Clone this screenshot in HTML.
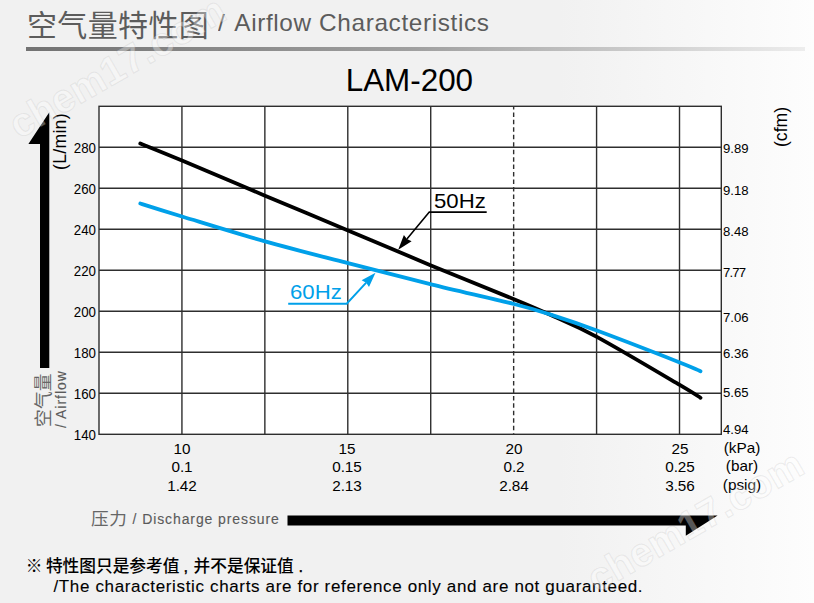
<!DOCTYPE html>
<html lang="zh-CN">
<head>
<meta charset="utf-8">
<title>LAM-200 Airflow Characteristics</title>
<style>
html,body{margin:0;padding:0}
body{width:814px;height:603px;position:relative;overflow:hidden;background:linear-gradient(90deg,#f1f1f1 0,#f1f1f1 560px,#fdfdfd 814px);font-family:"Liberation Sans",sans-serif}
svg{position:absolute;left:0;top:0;display:block}
.t{position:absolute;width:0;height:0;transform-origin:0 0}
.t>span{position:absolute;left:0;white-space:nowrap;line-height:1;display:block}
.wm{position:absolute;font-size:40px;font-weight:bold;line-height:1;white-space:nowrap;color:rgba(255,255,255,.36);-webkit-text-stroke:1.2px rgba(130,130,130,.13);transform:rotate(-30deg);transform-origin:0 0}
</style>
</head>
<body>
<svg width="814" height="603" viewBox="0 0 814 603">
<defs>
<linearGradient id="rg" x1="0" y1="0" x2="1" y2="0"><stop offset="0" stop-color="#727272"/><stop offset="0.5" stop-color="#a0a0a0"/><stop offset="1" stop-color="#ededed"/></linearGradient>
</defs>
<rect x="99.0" y="106.3" width="622.30" height="328.00" fill="#fff"/>
<g fill="none" stroke="#2e2e2e" stroke-width="1.4"><path d="M181.93 106.3V434.3"/><path d="M264.86 106.3V434.3"/><path d="M347.79 106.3V434.3"/><path d="M430.72 106.3V434.3"/><path d="M513.65 106.3V434.3" stroke-dasharray="4.5 2.96" stroke-dashoffset="1.36"/><path d="M596.58 106.3V434.3"/><path d="M679.51 106.3V434.3"/><path d="M99.0 147.30H721.3"/><path d="M99.0 188.30H721.3"/><path d="M99.0 229.30H721.3"/><path d="M99.0 270.30H721.3"/><path d="M99.0 311.30H721.3"/><path d="M99.0 352.30H721.3"/><path d="M99.0 393.30H721.3"/><rect x="99.0" y="106.3" width="622.30" height="328.00"/></g>
<path d="M140.3 143.5C147.2 146.3 161.2 151.8 182.0 160.5C202.8 169.2 237.3 184.0 265.0 195.7C292.7 207.3 320.3 218.8 348.0 230.4C375.7 242.0 403.3 253.9 431.0 265.4C458.7 276.9 493.9 290.9 514.0 299.2C534.1 307.5 537.6 309.0 551.4 315.3C565.2 321.6 575.4 325.2 596.8 336.8C618.2 348.4 662.4 374.7 679.7 384.9C697.0 395.1 697.0 395.6 700.5 397.8" fill="none" stroke="#000" stroke-width="3.8" stroke-linecap="round"/>
<path d="M140.3 203.5C147.2 205.7 161.2 210.2 182.0 216.5C202.8 222.8 237.3 233.6 265.0 241.4C292.7 249.2 320.3 256.1 348.0 263.2C375.7 270.3 403.3 277.5 431.0 284.3C458.7 291.1 493.9 298.9 514.0 304.0C534.1 309.1 537.6 310.5 551.4 314.9C565.2 319.3 575.4 322.6 596.8 330.5C618.2 338.4 662.4 355.6 679.7 362.4C697.0 369.2 697.0 369.7 700.5 371.2" fill="none" stroke="#00a0e9" stroke-width="3.8" stroke-linecap="round"/>
<path d="M486.7 212.1H429.3L406.9 239.1" fill="none" stroke="#000" stroke-width="1.6"/><path d="M398.2 249.7L403.9 235.0L406.9 239.1L411.6 241.3Z" fill="#000"/>
<path d="M288.2 303.7H346.7L366.2 282.7" fill="none" stroke="#00a0e9" stroke-width="1.9"/><path d="M375.5 272.7L369.0 287.1L366.2 282.7L361.6 280.3Z" fill="#00a0e9"/>
<path d="M40 368V144H28.4L49.3 112.3V368Z" fill="#000"/>
<path d="M287.5 515.5H717.6L685.8 535.8V525.6H287.5Z" fill="#000"/>
<rect x="26" y="47" width="779" height="4" fill="url(#rg)"/>
<text x="27" y="35.6" font-size="30" fill="#5c5c5c" letter-spacing="0.35" font-family="'Liberation Sans','Noto Sans CJK SC',sans-serif">空气量特性图</text>
<text transform="translate(49.6 426.9) rotate(-90)" font-size="17.8" fill="#666" letter-spacing="0.1" font-family="'Liberation Sans','Noto Sans CJK SC',sans-serif">空气量</text>
<text x="91" y="525" font-size="17.6" fill="#666" letter-spacing="0.6" font-family="'Liberation Sans','Noto Sans CJK SC',sans-serif">压力</text>
<text x="25.8" y="572.4" font-size="16.7" fill="#000" font-weight="500" font-family="'Liberation Sans','Noto Sans CJK SC',sans-serif">※</text>
<text x="45.9" y="572.4" font-size="16.7" fill="#000" font-weight="500" font-family="'Liberation Sans','Noto Sans CJK SC',sans-serif">特性图只是参考值</text>
<text x="193.6" y="572.4" font-size="16.7" fill="#000" font-weight="500" font-family="'Liberation Sans','Noto Sans CJK SC',sans-serif">并不是保证值</text>
</svg>
<div class="t" style="left:217.6px;top:31.9px;"><span style="top:-19.64px;transform:translateX(0) scaleX(1.05);transform-origin:0 0;font-size:23.2px;color:#5c5c5c;letter-spacing:0.6px;">/<span style="margin-right:1.4px"> </span>Airflow Characteristics</span></div>
<div class="t" style="left:409.4px;top:91.4px;"><span style="top:-26.58px;transform:translateX(-50%);transform-origin:50% 0;font-size:31.4px;color:#000;">LAM-200</span></div>
<div class="t" style="left:96.2px;top:153.20000000000002px;"><span style="top:-11.85px;transform:translateX(-100%) scaleX(0.95);transform-origin:100% 0;font-size:14px;color:#000;">280</span></div>
<div class="t" style="left:96.2px;top:194.20000000000002px;"><span style="top:-11.85px;transform:translateX(-100%) scaleX(0.95);transform-origin:100% 0;font-size:14px;color:#000;">260</span></div>
<div class="t" style="left:96.2px;top:235.20000000000002px;"><span style="top:-11.85px;transform:translateX(-100%) scaleX(0.95);transform-origin:100% 0;font-size:14px;color:#000;">240</span></div>
<div class="t" style="left:96.2px;top:276.2px;"><span style="top:-11.85px;transform:translateX(-100%) scaleX(0.95);transform-origin:100% 0;font-size:14px;color:#000;">220</span></div>
<div class="t" style="left:96.2px;top:317.2px;"><span style="top:-11.85px;transform:translateX(-100%) scaleX(0.95);transform-origin:100% 0;font-size:14px;color:#000;">200</span></div>
<div class="t" style="left:96.2px;top:358.2px;"><span style="top:-11.85px;transform:translateX(-100%) scaleX(0.95);transform-origin:100% 0;font-size:14px;color:#000;">180</span></div>
<div class="t" style="left:96.2px;top:399.2px;"><span style="top:-11.85px;transform:translateX(-100%) scaleX(0.95);transform-origin:100% 0;font-size:14px;color:#000;">160</span></div>
<div class="t" style="left:96.2px;top:440.2px;"><span style="top:-11.85px;transform:translateX(-100%) scaleX(0.95);transform-origin:100% 0;font-size:14px;color:#000;">140</span></div>
<div class="t" style="left:723.2px;top:153.1px;"><span style="top:-11.60px;transform:translateX(0) scaleX(0.96);transform-origin:0 0;font-size:13.7px;color:#000;">9.89</span></div>
<div class="t" style="left:723.2px;top:195.3px;"><span style="top:-11.60px;transform:translateX(0) scaleX(0.96);transform-origin:0 0;font-size:13.7px;color:#000;">9.18</span></div>
<div class="t" style="left:723.2px;top:236.1px;"><span style="top:-11.60px;transform:translateX(0) scaleX(0.96);transform-origin:0 0;font-size:13.7px;color:#000;">8.48</span></div>
<div class="t" style="left:723.2px;top:277.5px;"><span style="top:-11.60px;transform:translateX(0) scaleX(0.96);transform-origin:0 0;font-size:13.7px;color:#000;letter-spacing:-0.9px;">7.77</span></div>
<div class="t" style="left:723.2px;top:322.1px;"><span style="top:-11.60px;transform:translateX(0) scaleX(0.96);transform-origin:0 0;font-size:13.7px;color:#000;">7.06</span></div>
<div class="t" style="left:723.2px;top:359.0px;"><span style="top:-11.60px;transform:translateX(0) scaleX(0.96);transform-origin:0 0;font-size:13.7px;color:#000;">6.36</span></div>
<div class="t" style="left:723.2px;top:397.2px;"><span style="top:-11.60px;transform:translateX(0) scaleX(0.96);transform-origin:0 0;font-size:13.7px;color:#000;">5.65</span></div>
<div class="t" style="left:723.2px;top:434.5px;"><span style="top:-11.60px;transform:translateX(0) scaleX(0.96);transform-origin:0 0;font-size:13.7px;color:#000;">4.94</span></div>
<div class="t" style="left:181.5px;top:454.0px;"><span style="top:-12.44px;transform:translateX(-50%) scaleX(1.04);transform-origin:50% 0;font-size:14.7px;color:#000;">10</span></div>
<div class="t" style="left:181.5px;top:472.9px;"><span style="top:-12.44px;transform:translateX(-50%) scaleX(1.04);transform-origin:50% 0;font-size:14.7px;color:#000;">0.1</span></div>
<div class="t" style="left:181.5px;top:491.7px;"><span style="top:-12.44px;transform:translateX(-50%) scaleX(1.04);transform-origin:50% 0;font-size:14.7px;color:#000;">1.42</span></div>
<div class="t" style="left:347.4px;top:454.0px;"><span style="top:-12.44px;transform:translateX(-50%) scaleX(1.04);transform-origin:50% 0;font-size:14.7px;color:#000;">15</span></div>
<div class="t" style="left:347.4px;top:472.9px;"><span style="top:-12.44px;transform:translateX(-50%) scaleX(1.04);transform-origin:50% 0;font-size:14.7px;color:#000;">0.15</span></div>
<div class="t" style="left:347.4px;top:491.7px;"><span style="top:-12.44px;transform:translateX(-50%) scaleX(1.04);transform-origin:50% 0;font-size:14.7px;color:#000;">2.13</span></div>
<div class="t" style="left:514.0px;top:454.0px;"><span style="top:-12.44px;transform:translateX(-50%) scaleX(1.04);transform-origin:50% 0;font-size:14.7px;color:#000;">20</span></div>
<div class="t" style="left:514.0px;top:472.9px;"><span style="top:-12.44px;transform:translateX(-50%) scaleX(1.04);transform-origin:50% 0;font-size:14.7px;color:#000;">0.2</span></div>
<div class="t" style="left:514.0px;top:491.7px;"><span style="top:-12.44px;transform:translateX(-50%) scaleX(1.04);transform-origin:50% 0;font-size:14.7px;color:#000;">2.84</span></div>
<div class="t" style="left:679.8px;top:454.0px;"><span style="top:-12.44px;transform:translateX(-50%) scaleX(1.04);transform-origin:50% 0;font-size:14.7px;color:#000;">25</span></div>
<div class="t" style="left:679.8px;top:472.9px;"><span style="top:-12.44px;transform:translateX(-50%) scaleX(1.04);transform-origin:50% 0;font-size:14.7px;color:#000;">0.25</span></div>
<div class="t" style="left:679.8px;top:491.7px;"><span style="top:-12.44px;transform:translateX(-50%) scaleX(1.04);transform-origin:50% 0;font-size:14.7px;color:#000;">3.56</span></div>
<div class="t" style="left:742.4px;top:453.4px;"><span style="top:-12.36px;transform:translateX(-50%) scaleX(1.05);transform-origin:50% 0;font-size:14.6px;color:#000;">(kPa)</span></div>
<div class="t" style="left:742.4px;top:471.4px;"><span style="top:-12.36px;transform:translateX(-50%) scaleX(1.05);transform-origin:50% 0;font-size:14.6px;color:#000;">(bar)</span></div>
<div class="t" style="left:742.4px;top:490.2px;"><span style="top:-12.36px;transform:translateX(-50%) scaleX(1.05);transform-origin:50% 0;font-size:14.6px;color:#000;">(psig)</span></div>
<div class="t" style="left:434.0px;top:208.4px;"><span style="top:-16.76px;transform:translateX(0) scaleX(1.12);transform-origin:0 0;font-size:19.8px;color:#000;">50Hz</span></div>
<div class="t" style="left:289.8px;top:299.3px;"><span style="top:-16.76px;transform:translateX(0) scaleX(1.12);transform-origin:0 0;font-size:19.8px;color:#00a0e9;">60Hz</span></div>
<div class="t" style="left:67.0px;top:169.7px;transform:rotate(-90deg);"><span style="top:-14.90px;transform:translateX(0);transform-origin:0 0;font-size:17.6px;color:#000;letter-spacing:0.3px;">(L/min)</span></div>
<div class="t" style="left:787.6px;top:147.0px;transform:rotate(-90deg);"><span style="top:-14.90px;transform:translateX(0);transform-origin:0 0;font-size:17.6px;color:#000;">(cfm)</span></div>
<div class="t" style="left:66.6px;top:428.0px;transform:rotate(-90deg);"><span style="top:-11.77px;transform:translateX(0);transform-origin:0 0;font-size:13.9px;color:#5a5a5a;letter-spacing:1.02px;-webkit-text-stroke:0.1px #5a5a5a;">/ Airflow</span></div>
<div class="t" style="left:132.6px;top:523.9px;"><span style="top:-11.85px;transform:translateX(0);transform-origin:0 0;font-size:14px;color:#5a5a5a;letter-spacing:0.9px;-webkit-text-stroke:0.12px #5a5a5a;">/ Discharge pressure</span></div>
<div class="t" style="left:183.6px;top:572.4px;"><span style="top:-13.97px;transform:translateX(0);transform-origin:0 0;font-size:16.5px;color:#000;-webkit-text-stroke:0.35px #000;">,</span></div>
<div class="t" style="left:298.6px;top:572.4px;"><span style="top:-13.97px;transform:translateX(0);transform-origin:0 0;font-size:16.5px;color:#000;-webkit-text-stroke:0.35px #000;">.</span></div>
<div class="t" style="left:53.4px;top:592.3px;"><span style="top:-14.39px;transform:translateX(0);transform-origin:0 0;font-size:17px;color:#000;letter-spacing:0.65px;-webkit-text-stroke:0.1px #000;">/The characteristic charts are for reference only and are not guaranteed.</span></div>
<div class="wm" style="left:1.7px;top:110.4px">chem17.com</div>
<div class="wm" style="left:580.1px;top:563.8px">chem17.com</div>
</body>
</html>
